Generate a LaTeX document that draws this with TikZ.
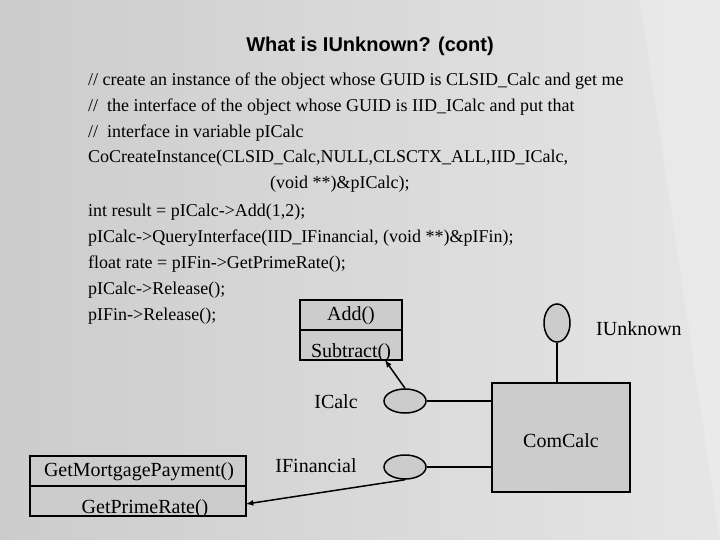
\documentclass[tikz,border=0pt]{standalone}
\usepackage{fontspec}
\setmainfont{Liberation Serif}
\newfontfamily\titlefont{Liberation Sans}
\usetikzlibrary{shapes.geometric}
\begin{document}
\begin{tikzpicture}[x=1pt,y=-1pt,
  code/.style={anchor=base west,font=\fontsize{18}{20}\selectfont,inner sep=0},
  lbl/.style={font=\fontsize{20}{22}\selectfont,inner sep=0},
  box/.style={draw,line width=1.5pt,fill=black!20},
  iface/.style={draw,line width=1.5pt,fill=black!20,ellipse,inner sep=0},
  conn/.style={line width=1.5pt},
  arr/.style={line width=1.5pt,-latex}]
\useasboundingbox (0,0) rectangle (720,540);
\shade[left color=black!20,right color=black!10] (0,0) rectangle (720,540);
\fill[white,opacity=0.2] (560,0) arc[start angle=90,end angle=-90,x radius=180,y radius=270] -- (720,540) -- (720,0) -- cycle;
\node[font=\titlefont\bfseries\fontsize{20}{22}\selectfont] (title) at (370,46) {What is IUnknown? (cont)};
\node[code] (l1) at (88,86) {// create an instance of the object whose GUID is CLSID\_Calc and get me};
\node[code] (l2) at (88,112) {//~ the interface of the object whose GUID is IID\_ICalc and put that};
\node[code] (l3) at (88,138) {//~ interface in variable pICalc};
\node[code] (l4) at (88,163) {CoCreateInstance(CLSID\_Calc,NULL,CLSCTX\_ALL,IID\_ICalc,};
\node[code] (l5) at (270,189) {(void **)\&pICalc);};
\node[code] (l6) at (88,216) {int result = pICalc->Add(1,2);};
\node[code] (l7) at (88,242) {pICalc->QueryInterface(IID\_IFinancial, (void **)\&pIFin);};
\node[code] (l8) at (88,268) {float rate = pIFin->GetPrimeRate();};
\node[code] (l9) at (88,294) {pICalc->Release();};
\node[code] (l10) at (88,320) {pIFin->Release();};
% ICalc class box
\draw[box] (300,300) rectangle (402,360);
\draw[conn] (300,330) -- (402,330);
\node[lbl] (add) at (351,316) {Add()};
\node[lbl] (sub) at (351,353) {Subtract()};
\coordinate (calcbox) at (385,360);
% ComCalc
\draw[box] (492,383) rectangle (630,492);
\node[lbl] (com) at (561,441) {ComCalc};
\coordinate (comtop) at (557,383);
\coordinate (comleft1) at (492,401);
\coordinate (comleft2) at (492,467);
% interfaces
\node[iface,minimum width=26pt,minimum height=38pt] (iu) at (557,323) {};
\node[lbl,anchor=west] (iut) at (596,329) {IUnknown};
\draw[conn] (iu.south) -- (comtop);
\node[iface,minimum width=42pt,minimum height=24pt] (ic) at (405,401) {};
\node[lbl] (ict) at (336,402) {ICalc};
\draw[conn] (ic.east) -- (comleft1);
\draw[arr] (ic.north) -- (calcbox);
\node[iface,minimum width=42pt,minimum height=24pt] (ifn) at (405,467) {};
\node[lbl] (ift) at (316,466) {IFinancial};
\draw[conn] (ifn.east) -- (comleft2);
% Financial class box
\draw[box] (30,456) rectangle (246,516);
\draw[conn] (30,486) -- (246,486);
\node[lbl] (gmp) at (139,472) {GetMortgagePayment()};
\node[lbl] (gpr) at (145,509) {GetPrimeRate()};
\coordinate (finbox) at (246,504);
\draw[arr] (ifn.south) -- (finbox);
\end{tikzpicture}
\end{document}
